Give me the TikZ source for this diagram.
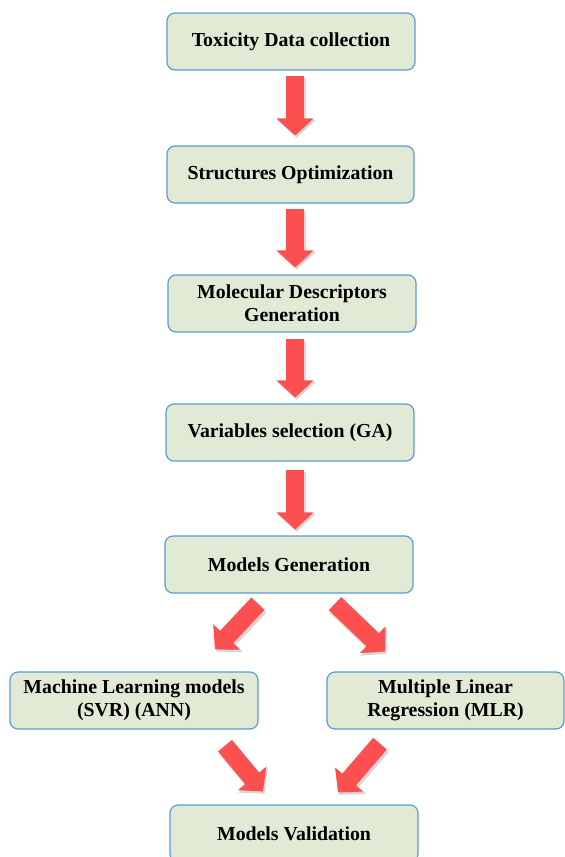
\documentclass[tikz,border=0pt]{standalone}
\usepackage{fontspec}
\setmainfont{Liberation Serif}
\usetikzlibrary{arrows.meta,calc}

\definecolor{boxfill}{HTML}{E2EAD6}
\definecolor{boxline}{HTML}{5B9BD5}
\definecolor{arrowred}{HTML}{FC5050}

\tikzset{
  stepbox/.style={draw=boxline, fill=boxfill, line width=1.2pt, rounded corners=8pt,
    minimum height=57pt, inner sep=2pt, align=center,
    font=\fontsize{19.8}{23}\selectfont\bfseries, text=black},
  bigarrow/.style={draw=arrowred, line width=18pt,
    -{Triangle[length=17pt,width=36pt]}},
  arrowshade/.style={draw=black, opacity=0.16, line width=19pt,
    -{Triangle[length=18pt,width=38pt]},
    transform canvas={shift={(1.5pt,-2.5pt)}}}
}

% thick red block arrow with a faint shadow underneath
\newcommand\redarrow[2]{%
  \draw[arrowshade] #1 -- #2;
  \draw[bigarrow] #1 -- #2;
}

\begin{document}
\begin{tikzpicture}[x=1pt,y=-1pt]
\useasboundingbox (0,0) rectangle (565,857);

% process steps
\node[stepbox, minimum width=248pt] (b1) at (291,41.5) {Toxicity Data collection};
\node[stepbox, minimum width=247pt] (b2) at (290.5,174.5) {Structures Optimization};
\node[stepbox, minimum width=248pt] (b3) at (292,303.5) {Molecular Descriptors\\Generation};
\node[stepbox, minimum width=248pt] (b4) at (290,432.5) {Variables selection (GA)};
\node[stepbox, minimum width=248pt] (b5) at (289,564.5) {Models Generation};
\node[stepbox, minimum width=248pt] (b6) at (134,700.5) {Machine Learning models\\(SVR) (ANN)};
\node[stepbox, minimum width=237pt] (b7) at (445.5,700.5) {Multiple Linear\\Regression (MLR)};
\node[stepbox, minimum width=248pt] (b8) at (294,833.5) {Models Validation};

% vertical flow
\redarrow{($(b1.south)+(4,5)$)}{($(b2.north)+(4.5,-10)$)}
\redarrow{($(b2.south)+(4.5,5)$)}{($(b3.north)+(3,-7)$)}
\redarrow{($(b3.south)+(3,6)$)}{($(b4.north)+(5,-6)$)}
\redarrow{($(b4.south)+(5,8)$)}{($(b5.north)+(6,-6)$)}

% branching into the two model families
\redarrow{($(b5.south)+(-31,10)$)}{($(b6.north)+(81,-22)$)}
\redarrow{($(b5.south)+(46,10)$)}{($(b7.north)+(-60.5,-20)$)}

% merging into validation
\redarrow{($(b6.south)+(91,16)$)}{($(b8.north)+(-31,-13)$)}
\redarrow{($(b7.south)+(-65.5,14)$)}{($(b8.north)+(44,-12)$)}
\end{tikzpicture}
\end{document}
